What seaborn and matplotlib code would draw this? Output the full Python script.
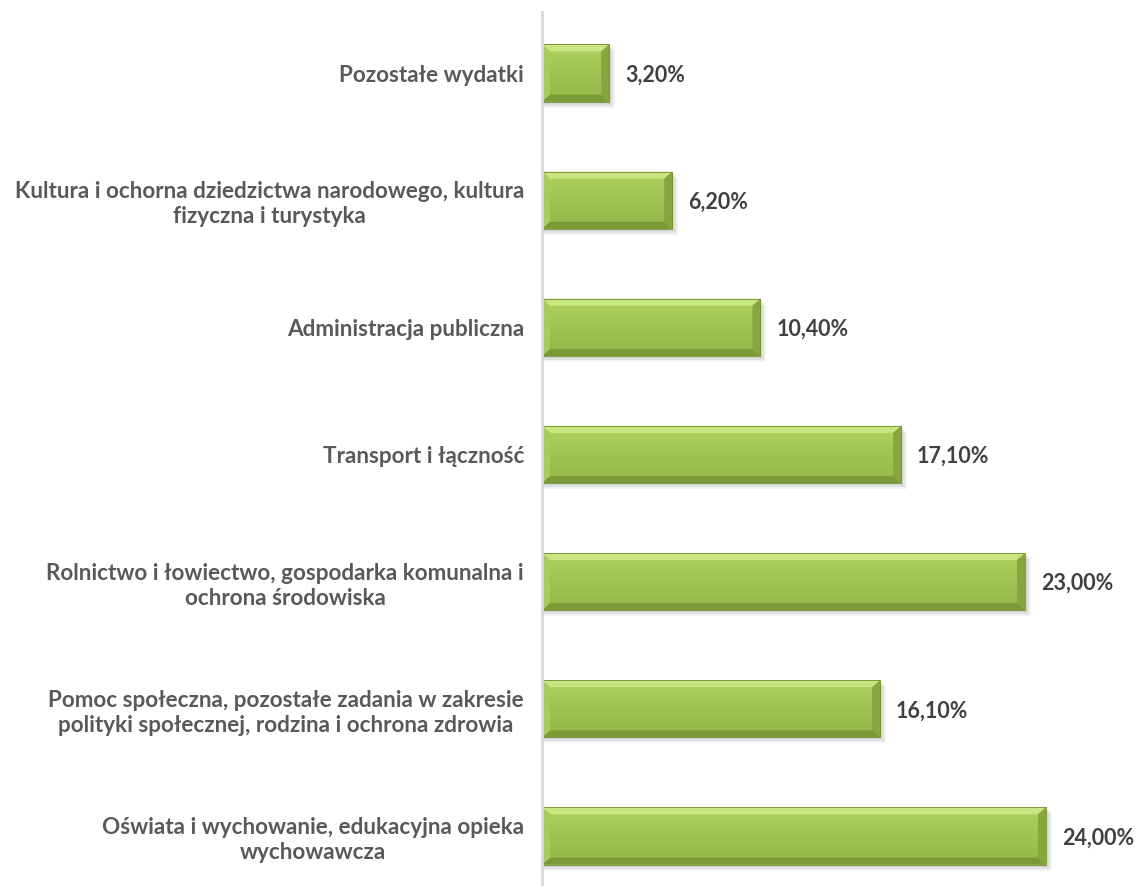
import matplotlib
matplotlib.use("Agg")
import matplotlib.pyplot as plt
import seaborn as sns
import pandas as pd
import numpy as np
from matplotlib.patches import Polygon, Rectangle

categories = [
    "Pozostałe wydatki",
    "Kultura i ochorna dziedzictwa narodowego, kultura\nfizyczna i turystyka",
    "Administracja publiczna",
    "Transport i łączność",
    "Rolnictwo i łowiectwo, gospodarka komunalna i\nochrona środowiska",
    "Pomoc społeczna, pozostałe zadania w zakresie\npolityki społecznej, rodzina i ochrona zdrowia",
    "Oświata i wychowanie, edukacyjna opieka\nwychowawcza",
]
values = [3.2, 6.2, 10.4, 17.1, 23.0, 16.1, 24.0]
value_labels = ["3,20%", "6,20%", "10,40%", "17,10%", "23,00%", "16,10%", "24,00%"]

sns.set_theme(style="white")
plt.rcParams["font.family"] = ["Lato", "DejaVu Sans"]

W, H = 1138, 886
fig = plt.figure(figsize=(W / 100, H / 100), dpi=100)
ax = fig.add_axes([542 / W, 0.0, 1 - 542 / W, 1 - 12 / H])

df = pd.DataFrame({"cat": categories, "val": values})
sns.barplot(data=df, x="val", y="cat", orient="h", color="#9fc255",
            width=0.45, ax=ax, saturation=1, zorder=3)

px_x = 21.0
px_y = 127.0
ax.set_xlim(0, (W - 542) / px_x)
ax.set_ylim(6 + (H - 836) / px_y, -61 / px_y)

grad = np.linspace(0, 1, 64).reshape(-1, 1)
from matplotlib.colors import LinearSegmentedColormap
cmap = LinearSegmentedColormap.from_list("g", ["#aed35f", "#9fc453", "#93b849"])

bx = 8 / px_x
by = 7 / px_y
for p in list(ax.patches):
    x0, y0 = p.get_x(), p.get_y()
    w, h = p.get_width(), p.get_height()
    x1, y1 = x0 + w, y0 + h
    # soft shadow
    for k, a in ((6, 0.05), (4, 0.07), (2, 0.10)):
        ax.add_patch(Rectangle((x0 + 1 / px_x, y0 + k / px_y), w + (k - 1) / px_x, h,
                               color="#000000", alpha=a, lw=0, zorder=2))
    im = ax.imshow(grad, extent=(x0, x1, y1, y0), aspect="auto", cmap=cmap,
                   zorder=3.5, origin="upper")
    im.set_clip_path(p)
    top = Polygon([(x0, y0), (x1, y0), (x1 - bx, y0 + by), (x0 + bx, y0 + by)],
                  closed=True, color="#c9e582", lw=0, zorder=4)
    bottom = Polygon([(x0, y1), (x1, y1), (x1 - bx, y1 - by), (x0 + bx, y1 - by)],
                     closed=True, color="#7a9a38", lw=0, zorder=4)
    left = Polygon([(x0, y0), (x0 + bx, y0 + by), (x0 + bx, y1 - by), (x0, y1)],
                   closed=True, color="#a8cc5c", lw=0, zorder=4)
    right = Polygon([(x1, y0), (x1 - bx, y0 + by), (x1 - bx, y1 - by), (x1, y1)],
                    closed=True, color="#86a640", lw=0, zorder=4)
    for poly in (top, bottom, left, right):
        ax.add_patch(poly)
    ax.add_patch(Rectangle((x0, y0), w, h, fill=False, ec="#6e8c31", lw=0.6, zorder=5))

for i, (v, lab) in enumerate(zip(values, value_labels)):
    ax.text(v + 16 / px_x, i + 2 / px_y, lab, va="center", ha="left", fontsize=15.5,
            fontweight="bold", color="#404040", zorder=6)

ax.set_xlabel("")
ax.set_ylabel("")
ax.set_xticks([])
ax.tick_params(axis="y", length=0, pad=13)
for t in ax.get_yticklabels():
    t.set_fontsize(16.2)
    t.set_fontweight("bold")
    t.set_color("#595959")
    t.set_multialignment("center")
    t.set_linespacing(1.25)

for s in ("top", "right", "bottom"):
    ax.spines[s].set_visible(False)
ax.spines["left"].set_color("#d9d9d9")
ax.spines["left"].set_linewidth(2)
ax.spines["left"].set_zorder(7)

fig.savefig("out.png", dpi=100, facecolor="white")
